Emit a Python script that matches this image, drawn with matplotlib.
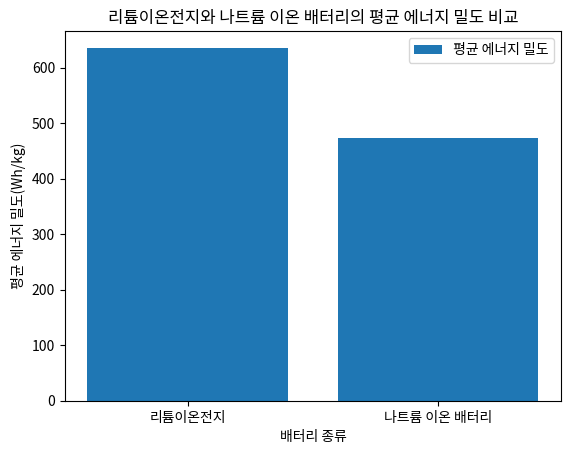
import matplotlib
matplotlib.use("Agg")
import matplotlib.pyplot as plt

plt.rcParams['font.family'] = ['Noto Sans CJK KR', 'DejaVu Sans']
plt.rcParams['axes.unicode_minus'] = False

battery_types = ["리튬이온전지", "나트륨 이온 배터리"]
avg_energy_density = [635, 473]

fig = plt.figure(figsize=(5.69, 4.54), dpi=100)
ax = fig.add_axes([0.114, 0.117, 0.872, 0.815])

ax.bar(battery_types, avg_energy_density, label="평균 에너지 밀도")
ax.set_title("리튬이온전지와 나트륨 이온 배터리의 평균 에너지 밀도 비교")
ax.set_xlabel("배터리 종류")
ax.set_ylabel("평균 에너지 밀도(Wh/kg)")
ax.legend()

fig.savefig("out.png", dpi=100)
